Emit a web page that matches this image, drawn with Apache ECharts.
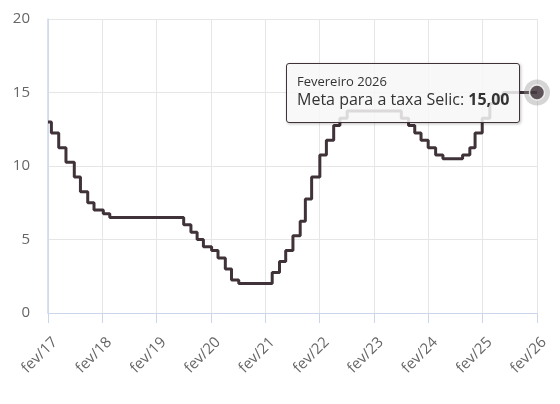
<!DOCTYPE html>
<html>
<head>
<meta charset="utf-8">
<script src="https://cdn.jsdelivr.net/npm/echarts@6/dist/echarts.min.js"></script>
<style>
html,body{margin:0;padding:0;background:#fff;}
#c{width:560px;height:404px;}
</style>
</head>
<body>
<div id="c"></div>
<script>
// Selic target changes (date of change, new rate)
const changeDates = [
  '2017-02-01','2017-02-22','2017-04-12','2017-05-31','2017-07-26','2017-09-06','2017-10-25','2017-12-06',
  '2018-02-07','2018-03-21','2019-07-31','2019-09-18','2019-10-30','2019-12-11',
  '2020-02-05','2020-03-18','2020-05-06','2020-06-17','2020-08-05',
  '2021-03-17','2021-05-05','2021-06-16','2021-08-04','2021-09-22','2021-10-27','2021-12-08',
  '2022-02-02','2022-03-16','2022-05-04','2022-06-15','2022-08-03',
  '2023-08-02','2023-09-20','2023-11-01','2023-12-13',
  '2024-01-31','2024-03-20','2024-05-08','2024-09-18','2024-11-06','2024-12-11',
  '2025-01-29','2025-03-19','2025-05-07','2025-06-18','2026-02-01'
];
const selicValues = [
  13.00,12.25,11.25,10.25,9.25,8.25,7.50,7.00,
  6.75,6.50,6.00,5.50,5.00,4.50,
  4.25,3.75,3.00,2.25,2.00,
  2.75,3.50,4.25,5.25,6.25,7.75,9.25,
  10.75,11.75,12.75,13.25,13.75,
  13.25,12.75,12.25,11.75,
  11.25,10.75,10.50,10.75,11.25,12.25,
  13.25,14.25,14.75,15.00,15.00
];
const tickLabels = ['fev/17','fev/18','fev/19','fev/20','fev/21','fev/22','fev/23','fev/24','fev/25','fev/26'];
const tooltipTitle = 'Fevereiro 2026';
const seriesName = 'Meta para a taxa Selic';

function monthsSinceStart(s){
  const [y,m,d] = s.split('-').map(Number);
  const dim = new Date(Date.UTC(y, m, 0)).getUTCDate();
  return (y-2017)*12 + (m-2) + (d-1)/dim;
}
const lineData = changeDates.map((d,i)=>[monthsSinceStart(d), selicValues[i]]);
const lastPoint = lineData[lineData.length-1];

const FONT = '"Open Sans", sans-serif';
const chart = echarts.init(document.getElementById('c'), null, {renderer:'canvas'});
chart.setOption({
  animation:false,
  grid:{left:48,right:23,top:19,bottom:91,containLabel:false},
  xAxis:{
    type:'value',min:0,max:108,interval:12,
    axisLine:{show:true,lineStyle:{color:'#ccd6eb',width:1}},
    axisTick:{show:true,length:10,lineStyle:{color:'#ccd6eb'}},
    splitLine:{show:true,lineStyle:{color:'#e6e6e6',width:1}},
    axisLabel:{
      rotate:45,margin:34,color:'#666666',fontSize:15,fontFamily:FONT,
      padding:[0,-10,0,0],
      formatter:v=>tickLabels[Math.round(v/12)]
    }
  },
  yAxis:{
    type:'value',min:0,max:20,interval:5,
    axisLine:{show:true,lineStyle:{color:'#ccd6eb',width:1.5}},
    axisTick:{show:false},
    splitLine:{show:true,lineStyle:{color:'#e6e6e6',width:1}},
    axisLabel:{color:'#666666',fontSize:15,fontFamily:FONT,margin:18}
  },
  tooltip:{
    trigger:'item',
    alwaysShowContent:true,
    position:[286,63],
    backgroundColor:'rgba(247,247,247,0.85)',
    borderColor:'#3f3238',
    borderWidth:1,
    padding:[9,10,13,10],
    extraCssText:'border-radius:3px;box-shadow:1px 1px 3px rgba(0,0,0,0.25);',
    textStyle:{fontFamily:FONT,color:'#333333'},
    formatter:function(){
      return '<div style="font-size:13px;line-height:16px;color:#333">'+tooltipTitle+'</div>'+
             '<div style="font-size:16px;line-height:20px;color:#333">'+seriesName+': <b>'+
             lastPoint[1].toFixed(2).replace('.',',')+'</b></div>';
    }
  },
  series:[
    {
      type:'line',name:seriesName,step:'end',data:lineData,
      showSymbol:false,silent:true,
      lineStyle:{color:'#3f3238',width:3},
      itemStyle:{color:'#3f3238'},
      z:2
    },
    {
      type:'scatter',data:[lastPoint],symbolSize:26,silent:true,
      itemStyle:{color:'rgba(150,150,150,0.5)'},z:3,tooltip:{show:false}
    },
    {
      type:'scatter',data:[lastPoint],symbolSize:15,
      itemStyle:{color:'#3f3238',borderColor:'#ffffff',borderWidth:1.5},z:4
    }
  ]
});
chart.dispatchAction({type:'showTip',seriesIndex:2,dataIndex:0});
</script>
</body>
</html>
